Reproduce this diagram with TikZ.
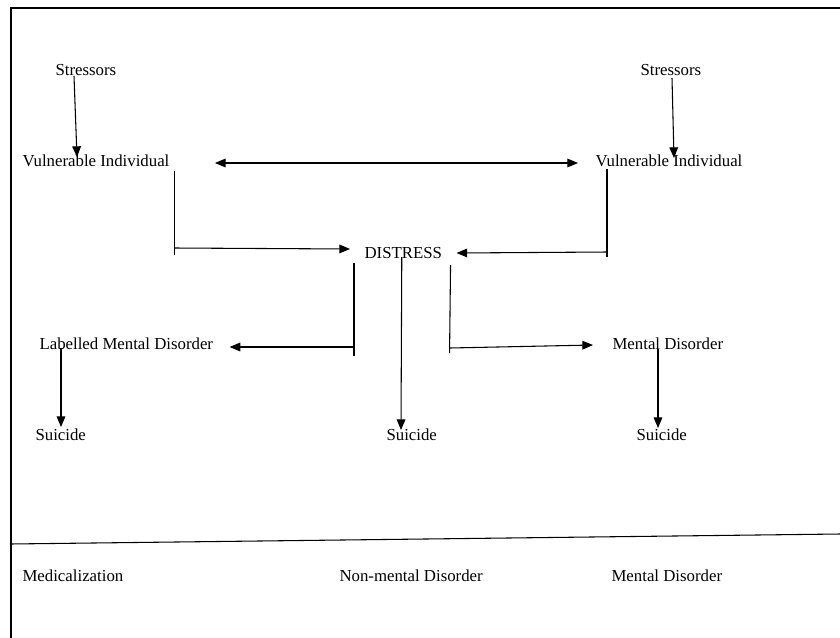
\documentclass[tikz,border=0pt]{standalone}
\usepackage{fontspec}
\setmainfont{Liberation Serif}
\usetikzlibrary{arrows.meta,calc}
\begin{document}
\begin{tikzpicture}[x=0.75pt,y=-0.75pt,line width=0.8pt,
  lbl/.style={anchor=base west,inner sep=0pt,font=\fontsize{12.6}{15}\selectfont},
  arr/.style={-{Triangle[length=8pt,width=6.5pt]}},
  dblarr/.style={{Triangle[length=8pt,width=6.5pt]}-{Triangle[length=8pt,width=6.5pt]}}]
\useasboundingbox (0,0) rectangle (840,637);

% Frame
\draw[line width=1pt] (11,640) -- (11,8) -- (840,8);
\draw (10,544) -- (840,534);

% Labels
\node[lbl] (str1) at (55,75) {Stressors};
\node[lbl] (str2) at (640,75) {Stressors};
\node[lbl] (vi1) at (22,166) {Vulnerable Individual};
\node[lbl] (vi2) at (595,166) {Vulnerable Individual};
\node[lbl] (dis) at (364,258) {DISTRESS};
\node[lbl] (lmd) at (39,349) {Labelled Mental Disorder};
\node[lbl] (md) at (612,349) {Mental Disorder};
\node[lbl] (su1) at (35,440) {Suicide};
\node[lbl] (su2) at (386,440) {Suicide};
\node[lbl] (su3) at (636,440) {Suicide};

% Bottom row
\node[lbl] (med) at (22,581) {Medicalization};
\node[lbl] (nmd) at (339,581) {Non-mental Disorder};
\node[lbl] (mdb) at (611,581) {Mental Disorder};

% Stressors to individuals
\draw[arr] ($(str1.base west)+(19,1)$) -- ($(vi1.base west)+(55,-9)$);
\draw[arr] ($(str2.base west)+(32,3)$) -- ($(vi2.base west)+(79,-8)$);
\draw[dblarr] ($(vi1.base east)+(45,-3)$) -- ($(vi2.base west)+(-17,-3)$);

% Individuals to distress
\coordinate (kl) at ($(vi1.base east)+(5,82)$);
\draw ($(vi1.base east)+(5,5)$) -- ($(kl)+(0,7)$);
\draw[arr] (kl) -- ($(dis.base west)+(-14,-9)$);
\coordinate (kr) at ($(vi2.base west)+(12,86)$);
\draw ($(vi2.base west)+(12,3)$) -- ($(kr)+(0,5)$);
\draw[arr] (kr) -- ($(dis.base east)+(14,-5)$);

% Distress outcomes
\coordinate (dl) at ($(dis.base west)+(-10,89)$);
\draw ($(dis.base west)+(-10,5)$) -- ($(dl)+(0,9)$);
\draw[arr] (dl) -- ($(lmd.base east)+(16,-2)$);
\draw[arr] ($(dis.base)+(-1.5,-1)$) -- ($(su2.base west)+(15,-10)$);
\coordinate (dr) at ($(dis.base east)+(7,90)$);
\draw ($(dis.base east)+(8,7)$) -- ($(dr)+(0,5)$);
\draw[arr] (dr) -- ($(md.base west)+(-19,-4)$);

% Disorders to suicide
\draw[arr] ($(lmd.base west)+(22,-1)$) -- ($(su1.base west)+(26,-13)$);
\draw[arr] ($(md.base west)+(46,0)$) -- ($(su3.base west)+(22,-12)$);
\end{tikzpicture}
\end{document}
